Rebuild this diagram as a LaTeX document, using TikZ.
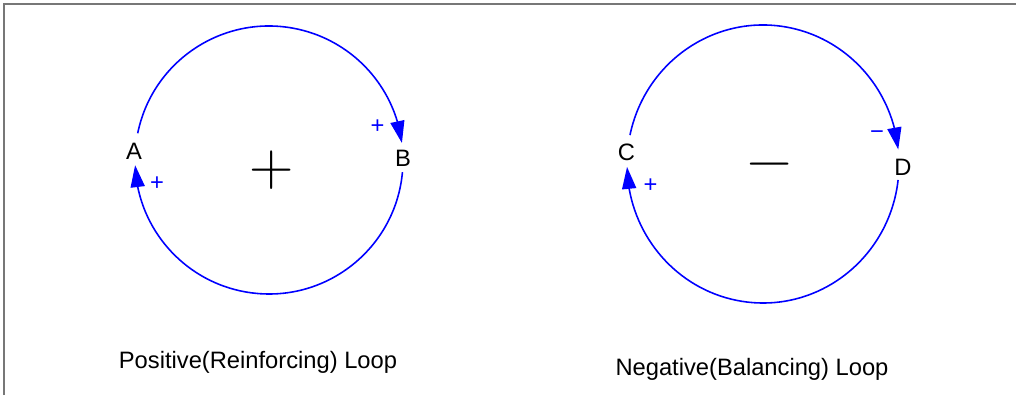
\documentclass[tikz,border=0pt]{standalone}
\usepackage{fontspec}
\usetikzlibrary{arrows.meta, bending}
\newfontfamily\gulfont{Liberation Sans}
\definecolor{loopblue}{HTML}{0000FF}
\definecolor{framegray}{HTML}{777777}
\tikzset{
  var/.style={font=\gulfont\fontsize{13.5}{16}\selectfont, inner sep=0pt,
              anchor=base},
  pol/.style={font=\gulfont\fontsize{13.5}{16}\selectfont, text=loopblue,
              inner sep=0pt, anchor=base},
  bigsign/.style={font=\fontsize{35}{35}\selectfont, inner sep=0pt,
                  anchor=base},
  caption/.style={font=\gulfont\fontsize{13.5}{16}\selectfont, inner sep=0pt,
                  anchor=base},
  link/.style={-{Triangle[length=12.5pt, width=8pt, flex]}, line width=0.9pt,
               draw=loopblue},
}

\begin{document}
\begin{tikzpicture}[x=0.02cm, y=-0.02cm]
  \useasboundingbox (0,0) rectangle (1016,395);
  \draw[framegray, line width=1.1pt] (4,395) -- (4,4) -- (1016,4);

  % positive (reinforcing) loop
  \coordinate (L) at (269,160);
  \node[var] (A) at (134,159) {A};
  \node[var] (B) at (403,166) {B};
  \node[pol] (sA) at (157,190.5) {+};
  \node[pol] (sB) at (377.5,133.5) {+};
  \node[bigsign] (plus) at (272,185.5) {+};
  \draw[link] ([shift={(191.5:134)}]L) arc[start angle=191.5, end angle=352.7, radius=134];
  \draw[link] ([shift={(5.2:134)}]L) arc[start angle=5.2, end angle=177.8, radius=134];
  \node[caption] (pcap) at (258,368) {Positive(Reinforcing) Loop};

  % negative (balancing) loop
  \coordinate (R) at (763,164);
  \node[var] (C) at (626.5,160) {C};
  \node[var] (D) at (903,175) {D};
  \node[pol] (sC) at (650.5,192.7) {+};
  \node[pol] (sD) at (877,139.7) {−};
  \node[bigsign] (minus) at (769.5,179.5) {−};
  \draw[link] ([shift={(192:136 and 139)}]R) arc[start angle=192, end angle=354, x radius=136, y radius=139];
  \draw[link] ([shift={(6.6:136 and 139)}]R) arc[start angle=6.6, end angle=178.8, x radius=136, y radius=139];
  \node[caption] (ncap) at (752,375) {Negative(Balancing) Loop};
\end{tikzpicture}
\end{document}
